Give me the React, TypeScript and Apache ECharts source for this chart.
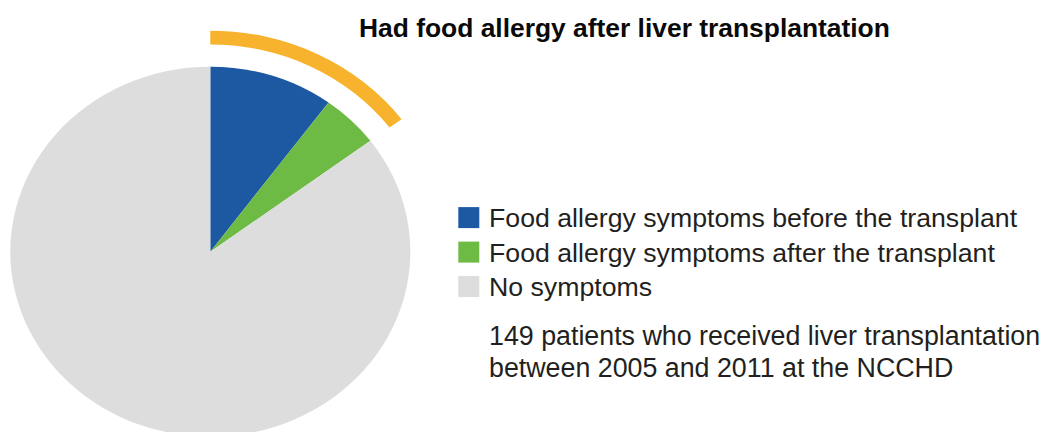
import React, { useEffect, useRef } from "react";
import * as echarts from "echarts";

const titleText = "Had food allergy after liver transplantation";
const categories = [
  "Food allergy symptoms before the transplant",
  "Food allergy symptoms after the transplant",
  "No symptoms",
];
const patientCounts = [15, 7, 127];
const sliceColors = ["#1d58a3", "#6dbb44", "#dcdddc"];
const highlightColor = "#f7b32d";
const noteLines = [
  "149 patients who received liver transplantation",
  "between 2005 and 2011 at the NCCHD",
];

const FONT = "'Liberation Sans', Arial, Helvetica, sans-serif";
const CX = 210.3;
const CY = 251.7;

export default function App() {
  const pieRef = useRef<HTMLDivElement>(null);
  const textRef = useRef<HTMLDivElement>(null);

  useEffect(() => {
    const pieChart = echarts.init(pieRef.current!, null, { renderer: "svg" });
    const textChart = echarts.init(textRef.current!, null, { renderer: "svg" });

    const allergyTotal = patientCounts[0] + patientCounts[1];

    pieChart.setOption({
      animation: false,
      series: [
        {
          type: "pie",
          center: [CX, CY],
          radius: [0, 200],
          startAngle: 90,
          clockwise: true,
          silent: true,
          label: { show: false },
          labelLine: { show: false },
          itemStyle: { borderWidth: 0 },
          data: categories.map((name, i) => ({
            name,
            value: patientCounts[i],
            itemStyle: { color: sliceColors[i] },
          })),
        },
        {
          type: "pie",
          center: [CX, CY],
          radius: [224, 239],
          startAngle: 90,
          clockwise: true,
          silent: true,
          label: { show: false },
          labelLine: { show: false },
          itemStyle: { borderWidth: 0 },
          data: [
            { name: "Had food allergy", value: allergyTotal, itemStyle: { color: highlightColor } },
            {
              name: "rest",
              value: patientCounts[2],
              itemStyle: { color: "rgba(0,0,0,0)" },
            },
          ],
        },
      ],
    });

    const legendY0 = 217.6;
    const legendStep = 34.5;
    const legendElements: any[] = [];
    categories.forEach((name, i) => {
      const cy = legendY0 + i * legendStep;
      legendElements.push({
        type: "rect",
        shape: { x: 458.3, y: cy - 10.5, width: 21, height: 21 },
        style: { fill: sliceColors[i] },
      });
      legendElements.push({
        type: "text",
        x: 489,
        y: cy + 0.6,
        style: {
          text: name,
          fill: "#231f20",
          font: `26.7px ${FONT}`,
          textAlign: "left",
          textVerticalAlign: "middle",
        },
      });
    });

    textChart.setOption({
      animation: false,
      title: {
        text: titleText,
        left: 354,
        top: 10,
        textStyle: {
          fontFamily: FONT,
          fontWeight: "bold",
          fontSize: 26.4,
          color: "#0a0a0a",
        },
      },
      graphic: [
        ...legendElements,
        ...noteLines.map((line, i) => ({
          type: "text",
          x: 489,
          y: 335.7 + i * 31.8,
          style: {
            text: line,
            fill: "#231f20",
            font: `26.8px ${FONT}`,
            textAlign: "left",
            textVerticalAlign: "middle",
          },
        })),
      ],
    });

    return () => {
      pieChart.dispose();
      textChart.dispose();
    };
  }, []);

  return (
    <div
      style={{
        position: "fixed",
        left: 0,
        top: 0,
        width: 1046,
        height: 432,
        overflow: "hidden",
        background: "#ffffff",
      }}
    >
      <div
        ref={pieRef}
        style={{
          position: "absolute",
          left: 0,
          top: 0,
          width: 480,
          height: 520,
          transformOrigin: `${CX}px ${CY}px`,
          transform: "scaleY(0.925)",
        }}
      />
      <div
        ref={textRef}
        style={{
          position: "absolute",
          left: 0,
          top: 0,
          width: 1046,
          height: 432,
        }}
      />
    </div>
  );
}
